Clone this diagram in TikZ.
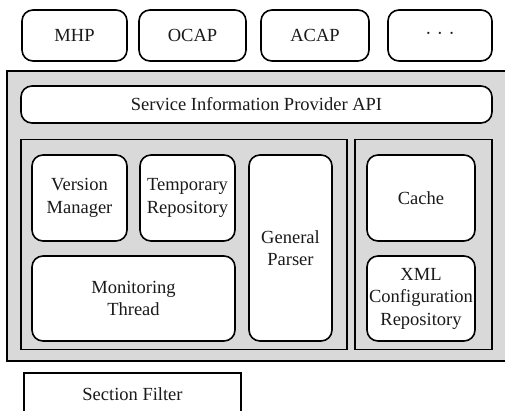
\documentclass[tikz,border=0pt]{standalone}
\usepackage{fontspec}
\setmainfont{Liberation Serif}
\definecolor{panelgray}{HTML}{D9D9D9}
\definecolor{txt}{HTML}{1A1A1A}
\begin{document}
\begin{tikzpicture}[x=1pt,y=-1pt,
  rbox/.style={draw=black,line width=1.6pt,fill=white,rounded corners=11pt,inner sep=0pt,
    text=txt,font=\rmfamily\fontsize{18.5}{22.5}\selectfont,align=center},
  sbox/.style={draw=black,line width=1.6pt,fill=white,inner sep=0pt,
    text=txt,font=\rmfamily\fontsize{18.5}{22.5}\selectfont,align=center},
  panel/.style={draw=black,line width=1.6pt,fill=panelgray,inner sep=0pt}]
\useasboundingbox (0,0) rectangle (505,411);
\clip (0,0) rectangle (505,411);
% top row
\node[rbox,minimum width=105pt,minimum height=51pt] (mhp) at (74.5,35.5) {MHP};
\node[rbox,minimum width=107pt,minimum height=51pt] (ocap) at (192.5,35.5) {OCAP};
\node[rbox,minimum width=108pt,minimum height=51pt] (acap) at (315,35.5) {ACAP};
\node[rbox,minimum width=104pt,minimum height=51pt] (more) at (440,35.5) {};
\node[text=txt] (dots) at (more.center) {\fontsize{18.5}{22}\selectfont\textperiodcentered\hspace{5.5pt}\textperiodcentered\hspace{5.5pt}\textperiodcentered};
% outer panel
\node[panel,minimum width=504pt,minimum height=290pt] (outer) at (259,216) {};
% API
\node[rbox,minimum width=471pt,minimum height=37pt] (api) at (256.5,104.5) {Service Information Provider API};
% inner panels
\node[panel,minimum width=326pt,minimum height=210pt] (left) at (184,244.5) {};
\node[panel,minimum width=137pt,minimum height=210pt] (right) at (423.5,244.5) {};
% left components
\node[rbox,minimum width=95pt,minimum height=86pt] (vm) at (79.5,198) {Version\\Manager};
\node[rbox,minimum width=95pt,minimum height=86pt] (tr) at (187.5,198) {Temporary\\Repository};
\node[rbox,minimum width=83pt,minimum height=186pt] (gp) at (290.5,248) {General\\Parser};
\node[rbox,minimum width=203pt,minimum height=85pt] (mt) at (133.5,298.5) {Monitoring\\Thread};
% right components
\node[rbox,minimum width=108pt,minimum height=86pt] (cache) at (421,198) {Cache};
\node[rbox,minimum width=108pt,minimum height=85pt] (xml) at (421,298.5) {XML\\Configuration\\Repository};
% section filter
\node[sbox,minimum width=217pt,minimum height=42pt] (sf) at (132.5,394) {Section Filter};
\end{tikzpicture}
\end{document}
